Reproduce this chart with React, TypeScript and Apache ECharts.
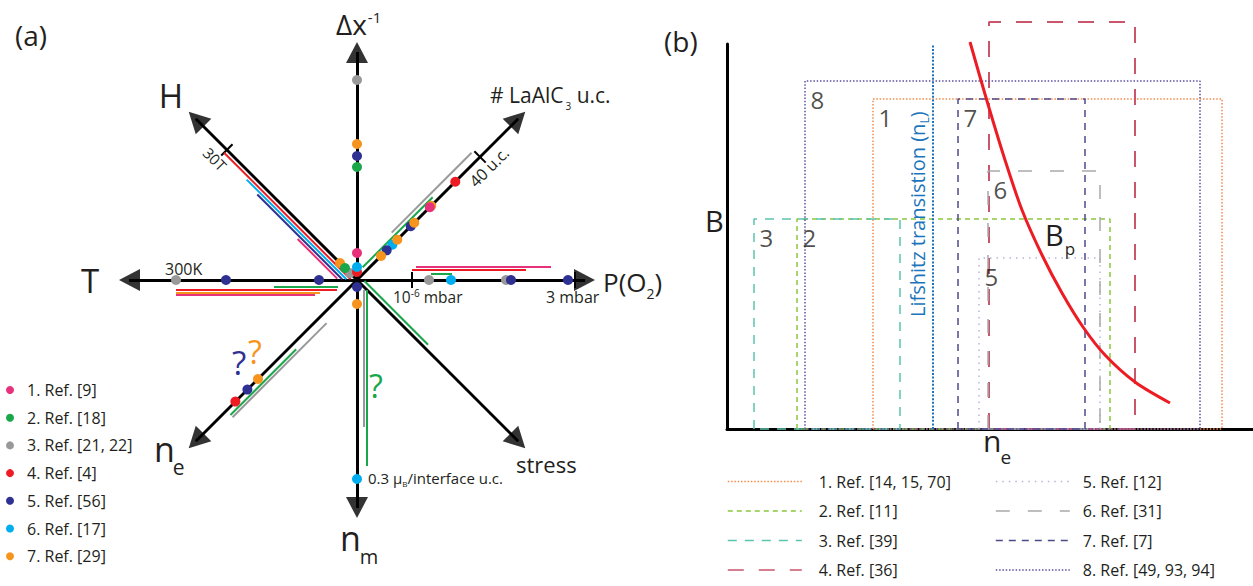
import React, { useEffect, useRef } from "react";
import * as echarts from "echarts";

const FONT = "'Open Sans', 'Noto Sans', 'DejaVu Sans', sans-serif";
const INK = "#231f20";

// ---------------- Panel (a): eight-direction parameter diagram ----------------
// axis directions in degrees (counter-clockwise from the P(O2) axis)
const AXIS_ANGLES = [0, 45, 90, 135, 180, 225, 270, 315];
const AXIS_LENGTH = 238;

const A_NAMES = ["1. Ref. [9]", "2. Ref. [18]", "3. Ref. [21, 22]", "4. Ref. [4]", "5. Ref. [56]", "6. Ref. [17]", "7. Ref. [29]"];
const A_COLORS = ["#e8317b", "#1aa64a", "#999999", "#ed1c24", "#2e3192", "#00aeef", "#f7941d"];

// dots: [axis angle, distance from centre]
const REF1_DOTS = [[90, 27], [45, 103]];
const REF2_DOTS = [[90, 113], [135, 17]];
const REF3_DOTS = [[90, 200], [135, 10], [180, 181], [0, 72], [0, 149]];
const REF4_DOTS = [[90, 8], [45, 139], [225, 172]];
const REF5_DOTS = [[90, 124], [180, 131], [180, 38], [0, 154], [0, 211], [270, 7], [45, 76], [45, 42], [225, 155]];
const REF6_DOTS = [[90, 13], [0, 94], [45, 50], [270, 199]];
const REF7_DOTS = [[90, 136], [135, 24], [270, 24], [45, 105], [45, 81], [45, 57], [45, 34], [225, 140]];

// ranges drawn beside an axis: [axis angle, from, to, side offset]
const REF1_RANGES = [[135, 15, 71, 13], [180, 42, 181, 15], [0, 59, 194, 13]];
const REF2_RANGES = [[180, 19, 83, 7], [0, 74, 95, 6], [45, 13, 112, 5], [270, 10, 186, 10], [315, 6, 96, 4.5], [225, 92, 185, 6]];
const REF3_RANGES = [[45, 58, 171, 9], [270, 10, 147, 7], [225, 52, 185, 9]];
const REF4_RANGES = [[135, 5, 184, 4], [180, 20, 181, 10], [0, 55, 169, 10]];
const REF5_RANGES = [[135, 11, 131, 10]];
const REF6_RANGES = [[135, 8, 149, 7]];
const REF7_RANGES = [[180, 37, 181, 12.5]];

// tick marks: [axis angle, distance]
const A_TICKS = [[135, 184], [45, 174], [0, 55], [0, 218]];

// ---------------- Panel (b): B vs n_e ----------------
const B_NAMES = ["1. Ref. [14, 15, 70]", "2. Ref. [11]", "3. Ref. [39]", "4. Ref. [36]", "5. Ref. [12]", "6. Ref. [31]", "7. Ref. [7]", "8. Ref. [49, 93, 94]"];
const RECT_LEFT = [146, 70, 27, 262, 252, 261, 231, 78];
const RECT_RIGHT = [495, 383, 173, 408, 373, 373, 358, 473];
const RECT_TOP = [330, 210, 210, 407, 171, 258, 330, 348];
const RECT_COLORS = ["#f58a4b", "#8cc63f", "#5cc4ad", "#c9566b", "#b9b2dd", "#a7a9ac", "#4d4a8c", "#5b52a3"];
const RECT_DASH = [[1.5, 1.8], [5, 4], [9, 8], [16, 15], [1.5, 5], [14, 18], [7, 6], [1.5, 1.8]];
const RECT_WIDTH = [1.5, 1.5, 1.5, 2, 1.5, 1.5, 1.5, 1.5];

const CURVE_X = [243, 260, 278, 295, 315, 335, 356, 378, 408, 443];
const CURVE_Y = [387, 328, 269, 219, 174, 136, 102, 74, 47, 26];

const LIFSHITZ_X = 206;
const LIFSHITZ_TOP = 385;

// ---------------- helpers ----------------
const toXY = (angle: number, r: number, d = 0): [number, number] => {
  const t = (angle * Math.PI) / 180;
  return [r * Math.cos(t) - d * Math.sin(t), r * Math.sin(t) + d * Math.cos(t)];
};

let ctx: CanvasRenderingContext2D | null = null;
const textWidth = (t: string, size: number) => {
  if (!ctx) ctx = document.createElement("canvas").getContext("2d");
  ctx!.font = `${size}px 'Open Sans'`;
  return ctx!.measureText(t).width;
};

// pieces: [text, size, baseline shift, extra gap before]
const composite = (x: number, baseline: number, pieces: any[], fill = INK) => {
  let cx = x;
  const els: any[] = [];
  for (const [t, s, b, gap] of pieces) {
    cx += gap || 0;
    els.push({
      type: "text",
      x: cx,
      y: baseline + b - 0.388 * s,
      silent: true,
      style: { text: t, fontSize: s, fontFamily: FONT, fill, textAlign: "left", textVerticalAlign: "middle" },
    });
    cx += textWidth(t, s);
  }
  return els;
};

const centerText = (x: number, y: number, t: string, s: number, fill = INK, rotation = 0) => ({
  type: "text",
  x,
  y,
  rotation,
  silent: true,
  style: { text: t, fontSize: s, fontFamily: FONT, fill, textAlign: "center", textVerticalAlign: "middle" },
});

function buildOption() {
  const dots = [REF1_DOTS, REF2_DOTS, REF3_DOTS, REF4_DOTS, REF5_DOTS, REF6_DOTS, REF7_DOTS];
  const ranges = [REF1_RANGES, REF2_RANGES, REF3_RANGES, REF4_RANGES, REF5_RANGES, REF6_RANGES, REF7_RANGES];
  const drawOrder = [2, 3, 5, 4, 6, 1, 0];

  const rangeData: any[] = [];
  ranges.forEach((list, i) =>
    list.forEach(([a, r0, r1, d]) =>
      rangeData.push({ coords: [toXY(a, r0, d), toXY(a, r1, d)], lineStyle: { color: A_COLORS[i] } })
    )
  );

  const series: any[] = [
    {
      type: "lines",
      name: "axes",
      coordinateSystem: "cartesian2d",
      xAxisIndex: 0,
      yAxisIndex: 0,
      z: 2,
      silent: true,
      symbol: "none",
      lineStyle: { color: "#000", width: 3, opacity: 1 },
      data: AXIS_ANGLES.map((a) => ({ coords: [[0, 0], toXY(a, AXIS_LENGTH - 10)] })),
    },
    {
      type: "scatter",
      name: "arrows",
      xAxisIndex: 0,
      yAxisIndex: 0,
      z: 2,
      silent: true,
      symbol: "triangle",
      symbolSize: [22, 21],
      itemStyle: { color: "#000" },
      data: AXIS_ANGLES.map((a) => ({ value: toXY(a, AXIS_LENGTH - 10.5), symbolRotate: a - 90 })),
    },
    {
      type: "lines",
      name: "ticks",
      coordinateSystem: "cartesian2d",
      xAxisIndex: 0,
      yAxisIndex: 0,
      z: 3,
      silent: true,
      symbol: "none",
      lineStyle: { color: "#000", width: 2, opacity: 1 },
      data: A_TICKS.map(([a, r]) => ({ coords: [toXY(a, r, -8), toXY(a, r, 8)] })),
    },
    {
      type: "lines",
      name: "ranges",
      coordinateSystem: "cartesian2d",
      xAxisIndex: 0,
      yAxisIndex: 0,
      z: 3,
      silent: true,
      symbol: "none",
      lineStyle: { width: 2, opacity: 1 },
      data: rangeData,
    },
    ...drawOrder.map((i) => ({
      type: "scatter",
      name: A_NAMES[i],
      xAxisIndex: 0,
      yAxisIndex: 0,
      z: 5,
      symbol: "circle",
      symbolSize: 10,
      itemStyle: { color: A_COLORS[i], opacity: 1 },
      data: dots[i].map(([a, r]) => toXY(a, r)),
    })),
    // panel (b)
    ...B_NAMES.map((name, i) => ({
      type: "line",
      name,
      xAxisIndex: 1,
      yAxisIndex: 1,
      z: 3,
      clip: false,
      symbol: "none",
      silent: true,
      itemStyle: { color: RECT_COLORS[i] },
      lineStyle: { color: RECT_COLORS[i], width: RECT_WIDTH[i], type: RECT_DASH[i] },
      data: [
        [RECT_LEFT[i], 0],
        [RECT_LEFT[i], RECT_TOP[i]],
        [RECT_RIGHT[i], RECT_TOP[i]],
        [RECT_RIGHT[i], 0],
        [RECT_LEFT[i], 0],
      ],
    })),
    {
      type: "line",
      name: "Lifshitz",
      xAxisIndex: 1,
      yAxisIndex: 1,
      z: 3,
      clip: false,
      symbol: "none",
      silent: true,
      lineStyle: { color: "#1c75bc", width: 2, type: [2, 1.6] },
      data: [[LIFSHITZ_X, 0], [LIFSHITZ_X, LIFSHITZ_TOP]],
    },
    {
      type: "line",
      name: "Bp",
      xAxisIndex: 1,
      yAxisIndex: 1,
      z: 4,
      clip: false,
      symbol: "none",
      silent: true,
      smooth: 0.3,
      lineStyle: { color: "#ed1c24", width: 3 },
      data: CURVE_X.map((x, i) => [x, CURVE_Y[i]]),
    },
    {
      type: "scatter",
      name: "rect labels",
      xAxisIndex: 1,
      yAxisIndex: 1,
      z: 6,
      silent: true,
      symbolSize: 1,
      itemStyle: { color: "rgba(0,0,0,0)" },
      label: {
        show: true,
        formatter: "{b}",
        position: [6, 19],
        align: "left",
        verticalAlign: "middle",
        fontSize: 24,
        fontFamily: FONT,
        color: INK,
      },
      data: B_NAMES.map((_, i) => ({ name: String(i + 1), value: [RECT_LEFT[i], RECT_TOP[i]] })),
    },
  ];

  const hiddenAxis = (min: number, max: number, gridIndex: number) => ({
    type: "value",
    gridIndex,
    min,
    max,
    show: false,
  });
  const shownAxis = (min: number, max: number, gridIndex: number) => ({
    type: "value",
    gridIndex,
    min,
    max,
    axisLine: { show: true, lineStyle: { color: "#000", width: 3 } },
    axisTick: { show: false },
    axisLabel: { show: false },
    splitLine: { show: false },
  });

  const graphic: any[] = [
    ...composite(15, 46, [["(a)", 28, 0]]),
    ...composite(336, 35, [["Δx", 28, 0], ["-1", 15, -12, 1]]),
    centerText(171, 95, "H", 33),
    centerText(90, 280, "T", 33),
    ...composite(490, 103, [["# LaAlC", 21, 0], ["3", 10, 7, 2], [" u.c.", 21, 0]]),
    ...composite(603, 292, [["P(O", 26, 0], ["2", 14, 7], [")", 26, 0]]),
    ...composite(165, 275, [["300K", 16, 0]]),
    ...composite(393, 303, [["10", 15.5, 0], ["-6", 10, -6], [" mbar", 15.5, 0]]),
    ...composite(546, 303, [["3 mbar", 16, 0]]),
    centerText(215, 159, "30T", 15, INK, -Math.PI / 4),
    centerText(489, 167, "40 u.c.", 16, INK, Math.PI / 4),
    ...composite(368, 484, [["0.3 μ", 15, 0], ["B", 8, 3], ["/interface u.c.", 15, 0]]),
    ...composite(516, 473, [["stress", 22, 0]]),
    ...composite(154, 462, [["n", 34, 0], ["e", 21, 13, -2]]),
    ...composite(340, 551, [["n", 34, 0], ["m", 20, 13, -1]]),
    centerText(239, 362, "?", 33, "#2e3192"),
    centerText(255, 351, "?", 32, "#f7941d"),
    centerText(376, 385, "?", 32, "#1aa64a"),
    // panel (b)
    ...composite(664, 52, [["(b)", 28, 0]]),
    ...composite(705, 232, [["B", 29, 0]]),
    ...composite(1045, 246, [["B", 29, 0], ["p", 17, 9, 1]]),
    ...composite(983, 452, [["n", 30, 0], ["e", 19, 12, -1]]),
    {
      type: "group",
      x: 925,
      y: 317,
      rotation: Math.PI / 2,
      children: composite(0, 0, [["Lifshitz transistion (n", 20, 0], ["L", 12, 4], [")", 20, 0]], "#1c75bc"),
    },
  ];

  const bLegend = (left: number, names: string[], pad: number) => ({
    orient: "vertical",
    left,
    top: 473.5,
    padding: 0,
    itemWidth: 74,
    itemHeight: 14,
    itemGap: 13.5,
    selectedMode: false,
    itemStyle: { opacity: 0 },
    lineStyle: { width: 1.6 },
    data: names,
    textStyle: { fontSize: 16, fontFamily: FONT, color: INK, padding: [0, 0, 0, pad] },
  });

  return {
    animation: false,
    backgroundColor: "#fff",
    textStyle: { fontFamily: FONT },
    grid: [
      { left: 119, top: 42, width: 476, height: 476 },
      { left: 727, top: 44, width: 526, height: 385 },
    ],
    xAxis: [hiddenAxis(-AXIS_LENGTH, AXIS_LENGTH, 0), shownAxis(0, 526, 1)],
    yAxis: [hiddenAxis(-AXIS_LENGTH, AXIS_LENGTH, 0), shownAxis(0, 385, 1)],
    legend: [
      {
        orient: "vertical",
        left: 6,
        top: 382,
        padding: 0,
        itemWidth: 8,
        itemHeight: 8,
        itemGap: 11.7,
        icon: "circle",
        selectedMode: false,
        data: A_NAMES,
        textStyle: { fontSize: 16, fontFamily: FONT, color: INK, padding: [0, 0, 0, 8] },
      },
      bLegend(727, B_NAMES.slice(0, 4), 12),
      bLegend(995, B_NAMES.slice(4), 8),
    ],
    graphic,
    series,
  };
}

export default function App() {
  const ref = useRef<HTMLDivElement>(null);
  useEffect(() => {
    if (!ref.current) return;
    const chart = echarts.init(ref.current, undefined, { renderer: "svg" });
    chart.setOption(buildOption() as any);
    return () => chart.dispose();
  }, []);
  return (
    <div
      ref={ref}
      style={{ position: "fixed", left: 0, top: 0, width: 1253, height: 586, background: "#fff" }}
    />
  );
}
